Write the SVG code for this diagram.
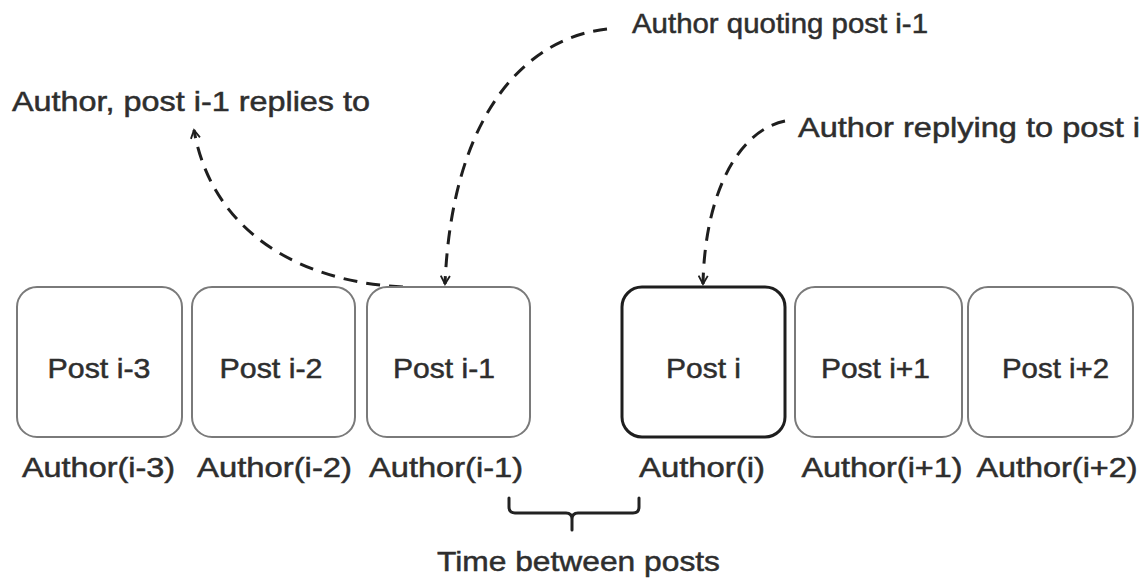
<svg xmlns="http://www.w3.org/2000/svg" width="1147" height="580" viewBox="0 0 1147 580">
<defs>
<style>
.box{fill:#fff;stroke:#7a7a7a;stroke-width:2}
.cur{fill:#fff;stroke:#1e1e1e;stroke-width:3}
.t{font-family:"Liberation Sans",Arial,sans-serif;font-size:28px;fill:#2e2e2e;stroke:#2e2e2e;stroke-width:0.5}
.c{text-anchor:middle}
.dash{fill:none;stroke:#1e1e1e;stroke-width:3;stroke-dasharray:14 9}
.br{fill:none;stroke:#222;stroke-width:3;stroke-linecap:round;stroke-linejoin:round}
</style>
<marker id="ah" markerUnits="userSpaceOnUse" viewBox="0 0 12 12" refX="10" refY="6" markerWidth="11" markerHeight="11" orient="auto">
<path d="M1 1 L10 6 L1 11" fill="none" stroke="#1e1e1e" stroke-width="2"/>
</marker>
</defs>
<rect width="1147" height="580" fill="#fff"/>

<g id="connectors">
<path class="dash" d="M403 287 C300 282 212 232 194 130" marker-end="url(#ah)"/>
<path class="dash" d="M607 29 C525 38 452 115 445 284" marker-end="url(#ah)"/>
<path class="dash" d="M785 121 C740 130 705 190 703 284" marker-end="url(#ah)"/>
</g>

<g id="post-i-3">
<rect class="box" x="17" y="287" width="165" height="150" rx="20"/>
<text class="t c" x="99" y="378" textLength="103" lengthAdjust="spacingAndGlyphs">Post i-3</text>
<text class="t c" x="98.5" y="477" textLength="153" lengthAdjust="spacingAndGlyphs">Author(i-3)</text>
</g>
<g id="post-i-2">
<rect class="box" x="192" y="287" width="163" height="150" rx="20"/>
<text class="t c" x="271" y="378" textLength="103" lengthAdjust="spacingAndGlyphs">Post i-2</text>
<text class="t c" x="274.5" y="477" textLength="155" lengthAdjust="spacingAndGlyphs">Author(i-2)</text>
</g>
<g id="post-i-1">
<rect class="box" x="367" y="287" width="163" height="150" rx="20"/>
<text class="t c" x="444" y="378" textLength="102" lengthAdjust="spacingAndGlyphs">Post i-1</text>
<text class="t c" x="446" y="477" textLength="154" lengthAdjust="spacingAndGlyphs">Author(i-1)</text>
</g>
<g id="post-i">
<rect class="cur" x="622" y="287" width="163" height="150" rx="20"/>
<text class="t c" x="703.5" y="378" textLength="75" lengthAdjust="spacingAndGlyphs">Post i</text>
<text class="t c" x="702" y="477" textLength="126" lengthAdjust="spacingAndGlyphs">Author(i)</text>
</g>
<g id="post-i+1">
<rect class="box" x="795" y="287" width="167" height="150" rx="20"/>
<text class="t c" x="875.5" y="378" textLength="109" lengthAdjust="spacingAndGlyphs">Post i+1</text>
<text class="t c" x="882" y="477" textLength="161" lengthAdjust="spacingAndGlyphs">Author(i+1)</text>
</g>
<g id="post-i+2">
<rect class="box" x="968" y="287" width="165" height="150" rx="20"/>
<text class="t c" x="1055.5" y="378" textLength="107" lengthAdjust="spacingAndGlyphs">Post i+2</text>
<text class="t c" x="1057" y="477" textLength="161" lengthAdjust="spacingAndGlyphs">Author(i+2)</text>
</g>

<g id="label-replies-to">
<text class="t" x="12" y="111" textLength="358" lengthAdjust="spacingAndGlyphs">Author, post i-1 replies to</text>
</g>
<g id="label-quoting">
<text class="t" x="632" y="33" textLength="296" lengthAdjust="spacingAndGlyphs">Author quoting post i-1</text>
</g>
<g id="label-replying">
<text class="t" x="798" y="137" textLength="342" lengthAdjust="spacingAndGlyphs">Author replying to post i</text>
</g>

<g id="time-between">
<path class="br" d="M509 498 L509 507 Q509 513 515 513 L566 513 Q572 513 572 519 M572 530 L572 519 Q572 513 578 513 L633 513 Q639 513 639 507 L639 498"/>
<text class="t c" x="578.5" y="571" textLength="283" lengthAdjust="spacingAndGlyphs">Time between posts</text>
</g>
</svg>
